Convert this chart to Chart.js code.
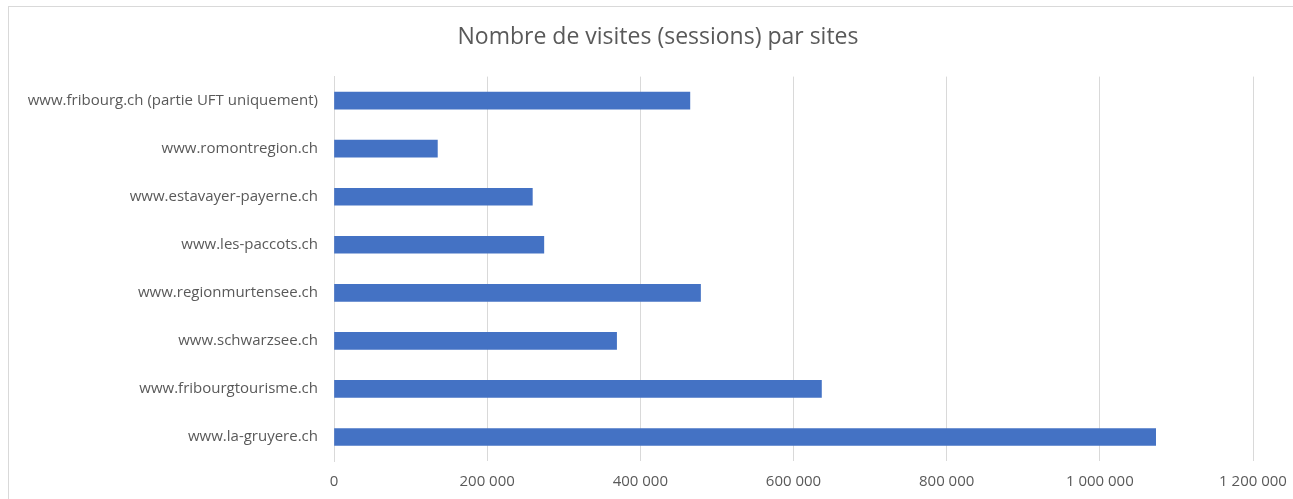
<!DOCTYPE html>
<html>
<head>
<meta charset="utf-8">
<script src="https://cdn.jsdelivr.net/npm/chart.js@4.4.1/dist/chart.umd.min.js"></script>
<style>
  html, body { margin: 0; padding: 0; background: #fff; overflow: hidden; }
  #frame { position: absolute; left: 8px; top: 6px; width: 1300px; height: 510px; border: 1px solid #d9d9d9; }
  #wrap { position: absolute; left: 0; top: 0; width: 1293px; height: 499px; }
</style>
</head>
<body>
<div id="frame"></div>
<div id="wrap"><canvas id="myChart"></canvas></div>
<script>
const sites = [
  "www.fribourg.ch (partie UFT uniquement)",
  "www.romontregion.ch",
  "www.estavayer-payerne.ch",
  "www.les-paccots.ch",
  "www.regionmurtensee.ch",
  "www.schwarzsee.ch",
  "www.fribourgtourisme.ch",
  "www.la-gruyere.ch"
];
const sessions = [464700, 135000, 259000, 274000, 478600, 369000, 636500, 1072900];
const axisMax = 1200000;
const axisStep = 200000;

function formatNumber(v) {
  return String(v).replace(/\B(?=(\d{3})+(?!\d))/g, " ");
}

// shift the title box so its centre sits over the middle of the frame
const titleShift = {
  id: "titleShift",
  afterLayout(chart) {
    chart.titleBlock.left = 63;
  }
};

window.onload = () => {
  const textColor = "#595959";
  const fontFamily = "'Open Sans', sans-serif";

  new Chart("myChart", {
    type: "bar",
    data: {
      labels: sites,
      datasets: [{
        label: "Sessions",
        data: sessions,
        backgroundColor: "#4472c4",
        barThickness: 17
      }]
    },
    options: {
      indexAxis: "y",
      responsive: true,
      maintainAspectRatio: false,
      animation: false,
      layout: { padding: { left: 0, right: 40, top: 0, bottom: 0 } },
      plugins: {
        legend: { display: false },
        tooltip: { enabled: false },
        title: {
          display: true,
          text: "Nombre de visites (sessions) par sites",
          color: textColor,
          font: { family: fontFamily, size: 23, weight: "normal", lineHeight: 1.2 },
          padding: { top: 24, bottom: 25 }
        }
      },
      scales: {
        x: {
          min: 0,
          max: axisMax,
          ticks: {
            stepSize: axisStep,
            color: textColor,
            font: { family: fontFamily, size: 15 },
            padding: 12,
            callback: (v) => formatNumber(v)
          },
          grid: { color: "#d9d9d9", drawTicks: false },
          border: { display: false },
          afterFit: (scale) => {
            scale.height = 38;
            scale.paddingRight = 0;
          }
        },
        y: {
          ticks: {
            color: textColor,
            font: { family: fontFamily, size: 15 },
            padding: 16
          },
          grid: { display: false, drawTicks: false },
          border: { color: "#d9d9d9" },
          afterFit: (scale) => { scale.width = 334; }
        }
      }
    },
    plugins: [titleShift]
  });
};
</script>
</body>
</html>
